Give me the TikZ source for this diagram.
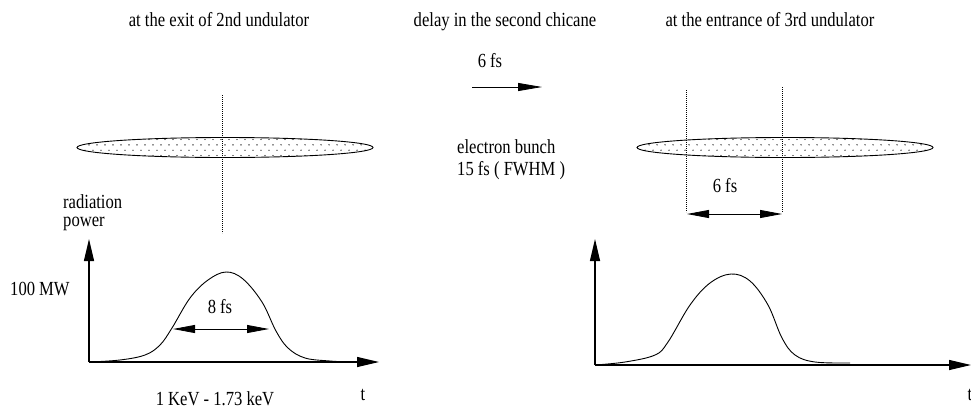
\documentclass[tikz,border=0pt]{standalone}
\usepackage{fontspec}
\setmainfont[FakeStretch=0.83]{Liberation Serif}
\usetikzlibrary{arrows.meta,shapes.geometric}
\begin{document}
\begin{tikzpicture}[x=1pt,y=-1pt,
  lbl/.style={font=\fontsize{20}{22}\selectfont, inner sep=0pt},
  axis/.style={line width=1.2pt, -{Triangle[length=22pt,width=10pt]}},
  span/.style={line width=0.8pt, {Triangle[length=22pt,width=8pt]}-{Triangle[length=22pt,width=8pt]}},
  guide/.style={line width=0.6pt, dash pattern=on 0.8pt off 1.2pt},
  pulse/.style={line width=0.9pt},
  bunch/.style={ellipse, draw, line width=0.9pt, minimum width=296pt, minimum height=20pt, inner sep=0pt,
    path picture={
      \foreach \dy/\off in {-8/0,-2.7/4,2.7/0,8/4}
        \foreach \i in {0,...,36}
          \fill ([xshift={-144pt+\i*8pt+\off*1pt}, yshift={\dy*1pt}]path picture bounding box.center) circle (0.7pt);
    }}
]
\useasboundingbox (0,0) rectangle (971,410);

% titles
\node[lbl, anchor=base] (t1) at (219,26) {at the exit of 2nd undulator};
\node[lbl, anchor=base] (t2) at (505,26) {delay in the second chicane};
\node[lbl, anchor=base] (t3) at (770,26) {at the entrance of 3rd undulator};

% delay arrow
\node[lbl, anchor=base] (d6) at (490,67) {6 fs};
\coordinate (da) at (472,87);
\coordinate (db) at (542,87);
\draw[line width=0.8pt, -{Triangle[length=24pt,width=8pt]}] (da) -- (db);

\node[lbl, anchor=base west] (eb) at (457,153) {electron bunch};
\node[lbl, anchor=base west] (fw) at (457,175) {15 fs ( FWHM )};

% bunches
\node[bunch] (b1) at (225,147.5) {};
\node[bunch] (b2) at (785,147.5) {};

% guide lines
\coordinate (g1a) at (222,95);  \coordinate (g1b) at (222,233);
\draw[guide] (g1a) -- (g1b);
\coordinate (g2a) at (686,90);  \coordinate (g2b) at (686,212);
\coordinate (g3a) at (782,87);  \coordinate (g3b) at (782,212);
\draw[guide] (g2a) -- (g2b);
\draw[guide] (g3a) -- (g3b);

% right 6 fs
\node[lbl, anchor=base] (r6) at (725,192) {6 fs};
\coordinate (ra) at (687,214);
\coordinate (rb) at (782,214);
\draw[span] (ra) -- (rb);

% left graph
\node[lbl, anchor=base west] (rad) at (63,208) {radiation};
\node[lbl, anchor=base west] (pow) at (63,226) {power};
\node[lbl, anchor=base west] (mw) at (10,295) {100 MW};
\coordinate (o1) at (89,362);
\coordinate (y1) at (89,239);
\coordinate (x1) at (379,362);
\draw[axis] (o1) -- (y1);
\draw[axis] (o1) -- (x1);
\draw[pulse] plot[smooth, tension=0.6] coordinates {(89,362) (120,360) (145,355) (160,345) (172,328) (190,298) (208,280) (226,272) (243,279) (262,302) (276,331) (288,348) (305,358) (330,361) (350,362)};
\node[lbl, anchor=base] (f8) at (220,313) {8 fs};
\coordinate (la) at (173,329);
\coordinate (lb) at (269,329);
\draw[span] (la) -- (lb);
\node[lbl, anchor=base] (kev) at (215,405) {1 KeV - 1.73 keV};
\node[lbl, anchor=base] (tl) at (363,400) {t};

% right graph
\coordinate (o2) at (595,365);
\coordinate (y2) at (595,239);
\coordinate (x2) at (971,365);
\draw[axis] (o2) -- (y2);
\draw[axis] (o2) -- (x2);
\draw[pulse] plot[smooth, tension=0.6] coordinates {(595,365) (625,362) (655,355) (668,342) (690,305) (710,283) (731,274) (750,281) (768,305) (782,338) (795,355) (815,362) (850,363)};
\node[lbl, anchor=base] (tr) at (970,400) {t};
\end{tikzpicture}
\end{document}
